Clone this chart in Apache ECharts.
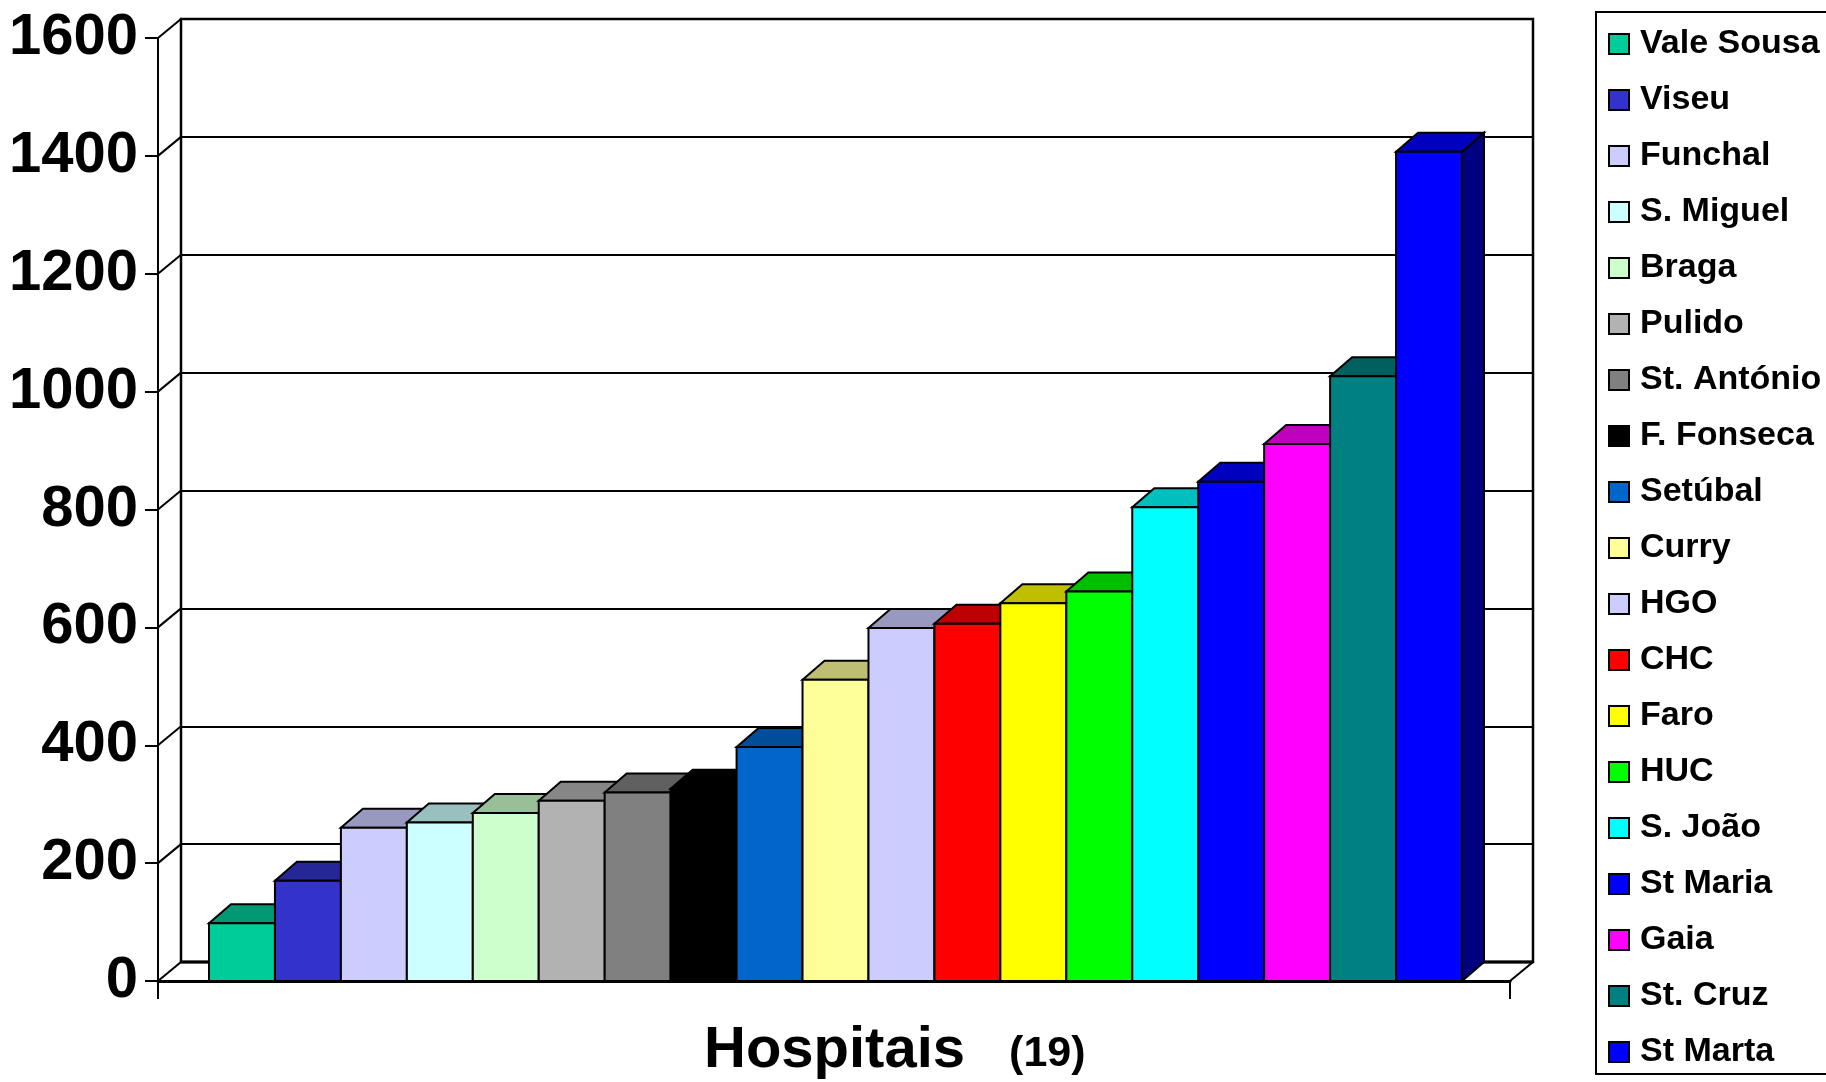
<!DOCTYPE html>
<html>
<head>
<meta charset="utf-8">
<script src="https://cdn.jsdelivr.net/npm/echarts@6/dist/echarts.min.js"></script>
<style>html,body{margin:0;padding:0;background:#fff;}#c{width:1826px;height:1082px;}</style>
</head>
<body>
<div id="c"></div>
<script>
const categories = ['Vale Sousa','Viseu','Funchal','S. Miguel','Braga','Pulido','St. António','F. Fonseca','Setúbal','Curry','HGO','CHC','Faro','HUC','S. João','St Maria','Gaia','St. Cruz','St Marta'];
const values = [98,170,260,269,285,306,320,326,397,511,599,606,641,661,804,847,911,1026,1407];
const colors = ['#00cc99','#3333cc','#ccccff','#ccffff','#ccffcc','#b2b2b2','#808080','#000000','#0066cc','#ffff99','#ccccff','#ff0000','#ffff00','#00ff00','#00ffff','#0000ff','#ff00ff','#008080','#0000ff'];
const yTicks = [0,200,400,600,800,1000,1200,1400,1600];
const xTitle = 'Hospitais';
const xSubtitle = '(19)';

const DX = 23, DY = -19;
const FONT = '"Liberation Sans", Arial, sans-serif';

function shade(hex, f) {
  const n = parseInt(hex.slice(1), 16);
  const r = Math.round(((n >> 16) & 255) * f), g = Math.round(((n >> 8) & 255) * f), b = Math.round((n & 255) * f);
  return 'rgb(' + r + ',' + g + ',' + b + ')';
}

const chart = echarts.init(document.getElementById('c'));

const barSeries = categories.map((name, i) => ({
  name: name,
  type: 'custom',
  xAxisIndex: 2,
  yAxisIndex: 2,
  itemStyle: { color: colors[i] },
  data: [[i, values[i]]],
  renderItem: function (params, api) {
    const top = api.coord([api.value(0), api.value(1)]);
    const base = api.coord([api.value(0), 0]);
    const w = api.size([1, 0])[0];
    const x0 = top[0] - w / 2, x1 = top[0] + w / 2;
    const yt = top[1], yb = base[1];
    const c = colors[i];
    const bdx = 22;
    const stroke = { stroke: '#000', lineWidth: 2, lineJoin: 'miter' };
    return {
      type: 'group',
      children: [
        { type: 'polygon', shape: { points: [[x1, yt], [x1 + bdx, yt + DY], [x1 + bdx, yb + DY], [x1, yb]] },
          style: Object.assign({ fill: shade(c, 0.5) }, stroke) },
        { type: 'polygon', shape: { points: [[x0, yt], [x0 + bdx, yt + DY], [x1 + bdx, yt + DY], [x1, yt]] },
          style: Object.assign({ fill: shade(c, 0.75) }, stroke) },
        { type: 'rect', shape: { x: x0, y: yt, width: w, height: yb - yt },
          style: Object.assign({ fill: c }, stroke) }
      ]
    };
  }
}));

const option = {
  animation: false,
  backgroundColor: '#fff',
  title: {
    text: '{a|' + xTitle + '}{b|' + xSubtitle + '}',
    left: 699, top: 1017,
    textStyle: {
      rich: {
        a: { fontFamily: FONT, fontWeight: 'bold', fontSize: 58, color: '#000', padding: [0, 44, 0, 0] },
        b: { fontFamily: FONT, fontWeight: 'bold', fontSize: 43, color: '#000', padding: [6, 0, 0, 0] }
      }
    }
  },
  legend: {
    orient: 'vertical',
    left: 1596, top: 12,
    padding: [12, 80, 2, 12],
    itemWidth: 20, itemHeight: 20, itemGap: 16,
    icon: 'rect',
    itemStyle: { borderColor: '#000', borderWidth: 2 },
    borderColor: '#000', borderWidth: 2, backgroundColor: '#fff',
    textStyle: { fontFamily: FONT, fontWeight: 'bold', fontSize: 34, lineHeight: 40, color: '#000', padding: [0, 0, 0, 6] },
    data: categories
  },
  grid: [
    { left: 158, right: 316, top: 38, bottom: 101 },
    { left: 181, right: 293, top: 19, bottom: 120, show: true, borderColor: '#000', borderWidth: 2.5, backgroundColor: '#fff' },
    { left: 209, right: 364, top: 38, bottom: 101 }
  ],
  xAxis: [
    { gridIndex: 0, type: 'value', min: 0, max: 1, interval: 1,
      axisLine: { show: true, lineStyle: { color: '#000', width: 3 } },
      axisTick: { show: true, length: 18, lineStyle: { color: '#000', width: 2 } },
      axisLabel: { show: false }, splitLine: { show: false } },
    { gridIndex: 1, type: 'value', min: 0, max: 1, show: false },
    { gridIndex: 2, type: 'category', data: categories, show: false }
  ],
  yAxis: [
    { gridIndex: 0, type: 'value', min: 0, max: 1600, interval: 200,
      axisLine: { show: true, lineStyle: { color: '#000', width: 2 } },
      axisTick: { show: true, length: 13, lineStyle: { color: '#000', width: 2 } },
      axisLabel: { margin: 20, fontFamily: FONT, fontWeight: 'bold', fontSize: 58, color: '#000',
                   formatter: function (v) { return String(v); } },
      splitLine: { show: false } },
    { gridIndex: 1, type: 'value', min: 0, max: 1600, interval: 200,
      axisLine: { show: false }, axisTick: { show: false }, axisLabel: { show: false },
      splitLine: { show: true, lineStyle: { color: '#000', width: 1.8 } } },
    { gridIndex: 2, type: 'value', min: 0, max: 1600, show: false }
  ],
  series: [
    {
      name: 'depth', type: 'custom', xAxisIndex: 0, yAxisIndex: 0, silent: true,
      data: yTicks.map(v => [0, v]).concat([[1, 0]]),
      renderItem: function (params, api) {
        const p = api.coord([api.value(0), api.value(1)]);
        return { type: 'line', shape: { x1: p[0], y1: p[1], x2: p[0] + DX, y2: p[1] + DY },
                 style: { stroke: '#000', lineWidth: 2 } };
      }
    },
    {
      name: 'backfloor', type: 'custom', xAxisIndex: 0, yAxisIndex: 0, silent: true,
      data: [[0, 0]],
      renderItem: function (params, api) {
        const a = api.coord([0, 0]); const b = api.coord([1, 0]);
        return { type: 'line', shape: { x1: a[0] + DX, y1: a[1] + DY, x2: b[0] + DX, y2: b[1] + DY },
                 style: { stroke: '#000', lineWidth: 3 } };
      }
    }
  ].concat(barSeries)
};
chart.setOption(option);
</script>
</body>
</html>
